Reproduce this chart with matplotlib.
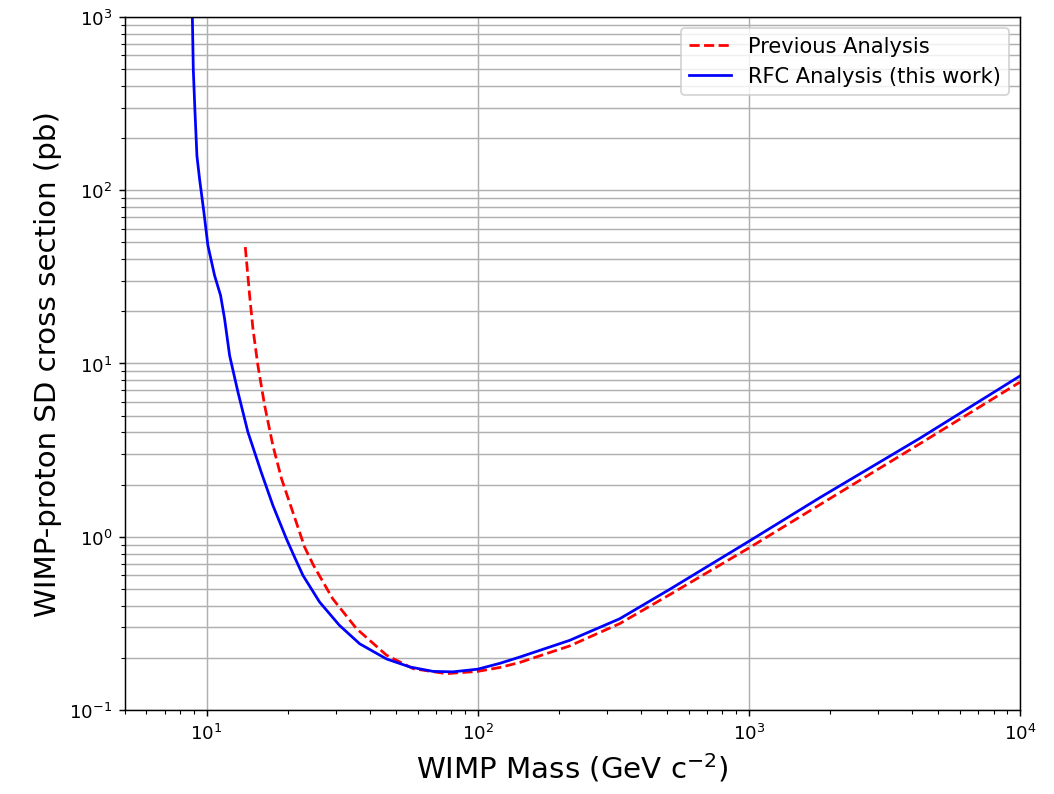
import matplotlib
matplotlib.use("Agg")
import matplotlib.pyplot as plt

# values
mass_rfc = [8.86, 8.93, 9.05, 9.21, 9.42, 9.77, 10.11, 10.70, 11.26, 11.65,
            12.16, 13.05, 14.2, 15.9, 17.56, 19.69, 21.1, 22.67, 26.1, 30.9,
            36.7, 46.1, 56.3, 68.4, 81.0, 100.0, 120.9, 142.9, 218.0, 334.0,
            511.0, 1000.0, 1828.0, 4276.0, 10000.0]
sigma_rfc = [1000, 500, 295, 158, 116, 74.8, 48, 32.2, 24.7, 18.1,
             11.1, 6.84, 4.02, 2.36, 1.516, 0.974, 0.764, 0.598, 0.420, 0.308,
             0.241, 0.197, 0.177, 0.167, 0.166, 0.172, 0.186, 0.202, 0.252, 0.336,
             0.497, 0.94, 1.68, 3.7, 8.46]

mass_prev = [13.89, 14.41, 14.82, 15.46, 16.37, 17.56, 18.9, 21.4, 23.0, 24.8,
             29.2, 35.7, 46.1, 57.9, 76.6, 100.0, 120.9, 142.9, 218.0, 334.0,
             511.0, 1000.0, 1828.0, 4276.0, 10000.0]
sigma_prev = [47, 24.7, 15.9, 9.74, 5.72, 3.36, 2.16, 1.215, 0.87, 0.683,
              0.438, 0.295, 0.207, 0.173, 0.162, 0.167, 0.176, 0.188, 0.234, 0.315,
              0.463, 0.86, 1.53, 3.44, 7.8]

fig = plt.figure(figsize=(8.0, 6.034), dpi=131.75)
ax = fig.add_axes([0.1186, 0.1057, 0.849, 0.8717])

ax.plot(mass_prev, sigma_prev, color='red', linestyle='--', linewidth=1.5,
        label='Previous Analysis')
ax.plot(mass_rfc, sigma_rfc, color='blue', linewidth=1.5,
        label='RFC Analysis (this work)')

ax.set_xscale('log')
ax.set_yscale('log')
ax.set_xlim(5, 1e4)
ax.set_ylim(0.1, 1e3)

ax.grid(True, which='major')
ax.yaxis.grid(True, which='minor')

ax.set_xlabel(r'WIMP Mass (GeV c$^{-2}$)', fontsize=16)
ax.set_ylabel('WIMP-proton SD cross section (pb)', fontsize=16)
ax.legend(loc='upper right', fontsize=11.5)

fig.savefig('out.png', dpi=131.75)
